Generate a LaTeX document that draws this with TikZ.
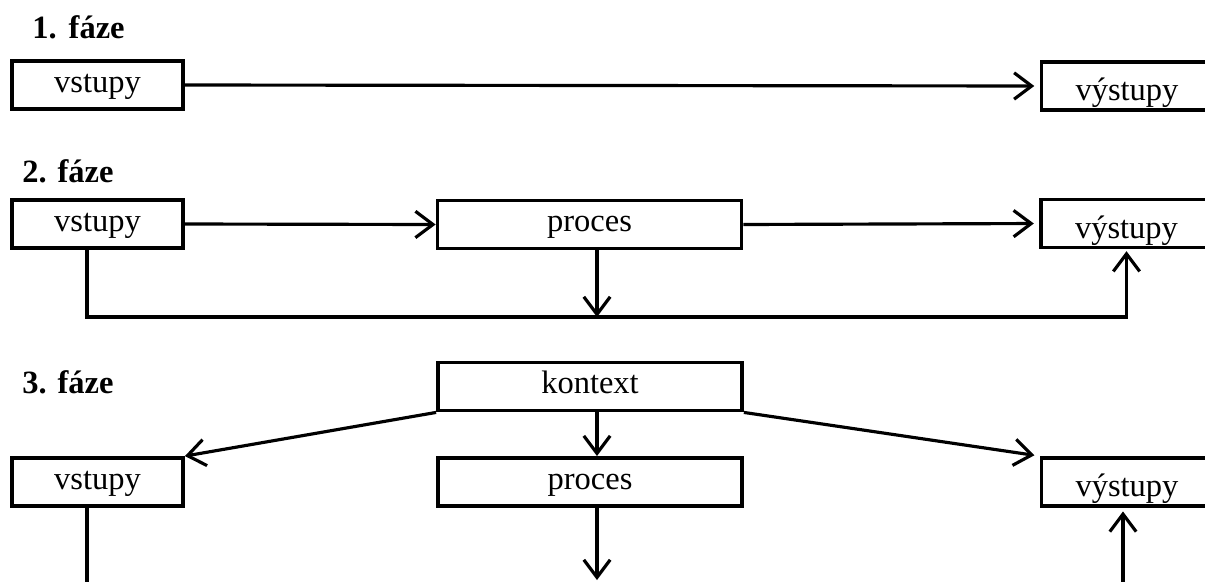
\documentclass[tikz,border=0pt]{standalone}
\usepackage{fontspec}
\setmainfont{Liberation Serif}
\usetikzlibrary{arrows.meta}
\begin{document}
\begin{tikzpicture}[x=0.02cm, y=-0.02cm,
        box/.style={draw, line width=2.2pt, minimum width=3.42cm, minimum height=0.96cm, inner sep=0pt,
            text height=13pt, text depth=4.6pt, font=\fontsize{18.5}{22}\selectfont},
        wide/.style={box, minimum width=6.08cm},
        outbox/.style={box, text height=20.4pt, text depth=3.4pt},
        phase/.style={anchor=base west, inner sep=0pt, font=\fontsize{18.5}{22}\selectfont\bfseries},
        conn/.style={line width=1.8pt, -{Straight Barb[length=10pt,width=15pt]}}]
    \useasboundingbox (0,0) rectangle (1205,582);
    \clip (0,0) rectangle (1205,582);

    % 1. faze
    \node[style=phase] (h1) at (32,38) {1.\hspace{0.37em}fáze};
    \node[style=box] (in1) at (97.5,85) {vstupy};
    \node[style=outbox] (out1) at (1127,86) {výstupy};
    \draw[conn, shorten >=3pt] (in1.east) -- (out1.west);

    % 2. faze
    \node[style=phase] (h2) at (22,182) {2. fáze};
    \node[style=box] (in2) at (97.5,224) {vstupy};
    \node[style=wide] (proc2) at (589.5,224.5) {proces};
    \node[style=outbox] (out2) at (1126.5,223.5) {výstupy};
    \coordinate (bus2) at (87,317);
    \coordinate (mid2) at (597,317);
    \draw[conn] (in2.east) -- (proc2.west);
    \draw[conn, shorten >=3pt] (proc2.east) -- (out2.west);
    \draw[conn] (proc2.south -| mid2) -- (mid2);
    \draw[conn, shorten >=1pt] (in2.south -| bus2) -- (bus2) -| (out2.south);

    % 3. faze
    \node[style=phase] (h3) at (22,393) {3. fáze};
    \node[style=wide] (ctx) at (590,386.5) {kontext};
    \node[style=box] (in3) at (97.5,482) {vstupy};
    \node[style=wide] (proc3) at (590,482) {proces};
    \node[style=outbox] (out3) at (1127,482) {výstupy};
    \coordinate (low1) at (87,600);
    \coordinate (low2) at (597,580);
    \coordinate (low3) at (1123,600);
    \draw[conn] (ctx.south west) -- (in3.north east);
    \draw[conn, shorten >=3pt] (ctx.south east) -- (out3.north west);
    \draw[conn] (ctx.south -| low2) -- (proc3.north -| low2);
    \draw[conn] (proc3.south -| low2) -- (low2);
    \draw[line width=1.8pt] (in3.south -| low1) -- (low1);
    \draw[conn, shorten >=2pt] (low3) -- (out3.south -| low3);
\end{tikzpicture}
\end{document}
